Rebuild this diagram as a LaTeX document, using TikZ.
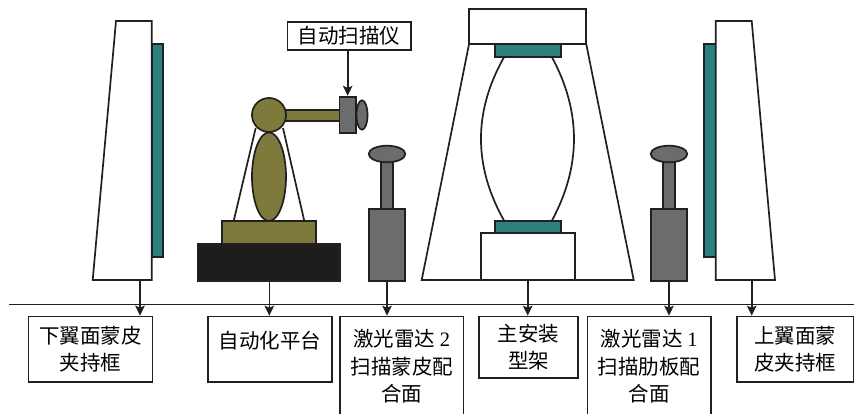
\documentclass[tikz,border=0pt]{standalone}
\usepackage{fontspec}
\setmainfont{Liberation Serif}
\newfontfamily\cjk{Noto Sans CJK SC}
\usetikzlibrary{arrows.meta}

\definecolor{ink}{HTML}{231F20}
\definecolor{tealc}{HTML}{2A807D}
\definecolor{olivec}{HTML}{7E7A3B}
\definecolor{basec}{HTML}{1D1D1B}
\definecolor{grayc}{HTML}{6B6C6E}

\tikzset{
  outl/.style={draw=ink, line width=1.7pt, line join=miter},
  bus/.style={draw=ink, line width=1.4pt},
  arr/.style={draw=ink, line width=1.6pt,
    -{Stealth[length=10pt,width=9.5pt,inset=2pt]}},
  lbl/.style={draw=ink, line width=1.6pt, fill=white, align=center,
    font=\cjk\fontsize{20.5}{27.5}\selectfont, inner sep=0pt,
    anchor=north west},
}

\begin{document}
\begin{tikzpicture}[x=1pt,y=-1pt]
\useasboundingbox (0,0) rectangle (854,414);

% lower wing skin clamping frame
\draw[outl, fill=tealc] (151.7,44) rectangle (163,257);
\draw[outl, fill=white] (116,21) -- (151.7,21) -- (151.7,280) -- (92.7,280) -- cycle;
\coordinate (s1) at (140,280);

% automated platform with robot arm
\draw[outl] (233.7,221) -- (255.7,128);
\draw[outl] (304.3,221) -- (283,128);
\draw[outl, fill=olivec] (221.7,221) rectangle (316,244.3);
\draw[outl, fill=basec] (197.7,244.3) rectangle (339.7,281);
\draw[outl, fill=olivec] (269,176.7) ellipse [x radius=17pt, y radius=44.3pt];
\draw[outl, fill=olivec] (280,110) rectangle (340,120.7);
\draw[outl, fill=olivec] (269,115) circle [radius=17pt];
\draw[outl, fill=grayc] (362,115) ellipse [x radius=5.5pt, y radius=14.7pt];
\node[outl, fill=grayc, minimum width=16.7pt, minimum height=36.6pt, inner sep=0pt]
  (cam) at (347.7,115) {};
\coordinate (s2) at (269.3,281);

% laser radars
\foreach \cx/\nm in {387/s3, 669/s5}{
  \draw[outl, fill=grayc] ({\cx-6.2},150) rectangle ({\cx+6.2},209.3);
  \draw[outl, fill=grayc] (\cx,154) ellipse [x radius=18.3pt, y radius=8.3pt];
  \draw[outl, fill=grayc] ({\cx-18},209.3) rectangle ({\cx+18},281);
  \coordinate (\nm) at (\cx,281);
}

% main assembly jig
\draw[outl] (469,44.3) -- (421.7,280) -- (633.7,280) -- (586.3,44.3);
\draw[outl, fill=white] (469,9.3) rectangle (586.3,44.3);
\draw[outl, fill=tealc] (495,44.3) rectangle (561,56.7);
\draw[outl] (504.3,56.7) .. controls (473.2,111.5) and (473.2,166.2) .. (504.3,221);
\draw[outl] (551.7,56.7) .. controls (581.4,111.5) and (581.4,166.2) .. (551.7,221);
\draw[outl, fill=tealc] (495,221) rectangle (561,233.3);
\draw[outl, fill=white] (480.7,233.3) rectangle (575,280);
\coordinate (s4) at (527.7,280);

% upper wing skin clamping frame
\draw[outl, fill=tealc] (704.3,44.3) rectangle (715.7,257);
\draw[outl, fill=white] (715.7,21) -- (751.7,21) -- (775,280) -- (715.7,280) -- cycle;
\coordinate (s6) at (751.7,280);

% scanner label
\node[lbl, minimum width=123.3pt, minimum height=28pt] (scan) at (286.7,21) {自动扫描仪};
\draw[arr] (scan.south -| cam.north) -- (cam.north);

% bus line
\coordinate (bl) at (9.3,304.3);
\coordinate (br) at (854,304.3);
\draw[bus] (bl) -- (br);

% component boxes
\node[lbl, minimum width=124pt, minimum height=65.3pt] (b1) at (27.7,315.7) {下翼面蒙皮\\夹持框};
\node[lbl, minimum width=123.7pt, minimum height=65.3pt, text height=10pt, text depth=11pt] (b2) at (207.3,315.7) {自动化平台};
\node[lbl, minimum width=123.4pt, minimum height=100pt] (b3) at (339.3,315.7) {激光雷达 {\rmfamily 2}\\扫描蒙皮配\\合面};
\node[lbl, minimum width=99pt, minimum height=61.6pt] (b4) at (478.3,315.7) {主安装\\型架};
\node[lbl, minimum width=123.3pt, minimum height=100pt] (b5) at (586.7,315.7) {激光雷达 {\rmfamily 1}\\扫描肋板配\\合面};
\node[lbl, minimum width=116.7pt, minimum height=65.3pt] (b6) at (736,315.7) {上翼面蒙\\皮夹持框};

% connectors
\foreach \s/\b in {s1/b1, s2/b2, s3/b3, s4/b4, s5/b5, s6/b6}
  \draw[arr] (\s) -- (\s |- \b.north);
\end{tikzpicture}
\end{document}
